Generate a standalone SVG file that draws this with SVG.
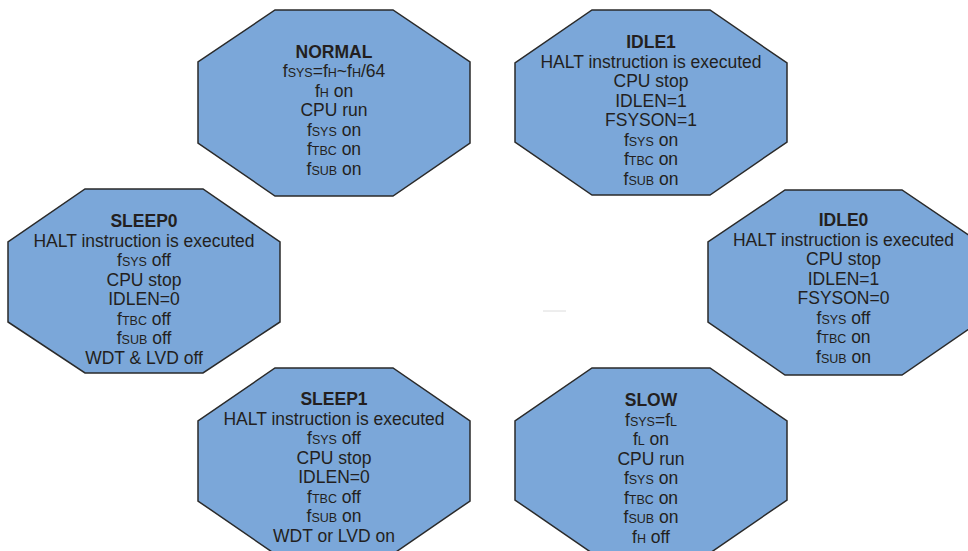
<svg xmlns="http://www.w3.org/2000/svg" width="968" height="551" viewBox="0 0 968 551">
<style>
.oct{fill:#7ba7d9;stroke:#2a2a2a;stroke-width:1.5;stroke-linejoin:miter}
text{font-family:"Liberation Sans",Arial,sans-serif;font-size:17.5px;fill:#231f20;text-anchor:middle}
.t{font-weight:bold}
.s{font-size:12.5px}
</style>
<rect width="968" height="551" fill="#ffffff"/>
<g id="connectors">
<line x1="543" y1="311" x2="566" y2="311" stroke="#dcdcdc" stroke-width="1"/>
</g>
<g id="normal">
<polygon class="oct" points="275,10 393,10 470,62 470,143 393,196 275,196 198,143 198,62"/>
<text x="334" y="57.5" class="t">NORMAL</text>
<text x="334" y="77">f<tspan class="s">SYS</tspan>=f<tspan class="s">H</tspan>~f<tspan class="s">H</tspan>/64</text>
<text x="334" y="96.5">f<tspan class="s">H</tspan> on</text>
<text x="334" y="116">CPU run</text>
<text x="334" y="135.5">f<tspan class="s">SYS</tspan> on</text>
<text x="334" y="155">f<tspan class="s">TBC</tspan> on</text>
<text x="334" y="174.5">f<tspan class="s">SUB</tspan> on</text>
</g>
<g id="idle1">
<polygon class="oct" points="592,10 710,10 787,63 787,142 710,195 592,195 515,142 515,63"/>
<text x="651" y="48" class="t">IDLE1</text>
<text x="651" y="67.5">HALT instruction is executed</text>
<text x="651" y="87">CPU stop</text>
<text x="651" y="106.5">IDLEN=1</text>
<text x="651" y="126">FSYSON=1</text>
<text x="651" y="145.5">f<tspan class="s">SYS</tspan> on</text>
<text x="651" y="165">f<tspan class="s">TBC</tspan> on</text>
<text x="651" y="184.5">f<tspan class="s">SUB</tspan> on</text>
</g>
<g id="sleep0">
<polygon class="oct" points="85,189 203,189 280,242 280,322 203,373 85,373 8,322 8,242"/>
<text x="144" y="227" class="t">SLEEP0</text>
<text x="144" y="246.5">HALT instruction is executed</text>
<text x="144" y="266">f<tspan class="s">SYS</tspan> off</text>
<text x="144" y="285.5">CPU stop</text>
<text x="144" y="305">IDLEN=0</text>
<text x="144" y="324.5">f<tspan class="s">TBC</tspan> off</text>
<text x="144" y="344">f<tspan class="s">SUB</tspan> off</text>
<text x="144" y="363.5">WDT &amp; LVD off</text>
</g>
<g id="idle0">
<polygon class="oct" points="785,190 902,190 979,242 979,322 902,375 785,375 708,322 708,242"/>
<text x="843.5" y="226" class="t">IDLE0</text>
<text x="843.5" y="245.5">HALT instruction is executed</text>
<text x="843.5" y="265">CPU stop</text>
<text x="843.5" y="284.5">IDLEN=1</text>
<text x="843.5" y="304">FSYSON=0</text>
<text x="843.5" y="323.5">f<tspan class="s">SYS</tspan> off</text>
<text x="843.5" y="343">f<tspan class="s">TBC</tspan> on</text>
<text x="843.5" y="362.5">f<tspan class="s">SUB</tspan> on</text>
</g>
<g id="sleep1">
<polygon class="oct" points="275,368 393,368 470,421 470,501 393,554 275,554 198,501 198,421"/>
<text x="334" y="405" class="t">SLEEP1</text>
<text x="334" y="424.5">HALT instruction is executed</text>
<text x="334" y="444">f<tspan class="s">SYS</tspan> off</text>
<text x="334" y="463.5">CPU stop</text>
<text x="334" y="483">IDLEN=0</text>
<text x="334" y="502.5">f<tspan class="s">TBC</tspan> off</text>
<text x="334" y="522">f<tspan class="s">SUB</tspan> on</text>
<text x="334" y="541.5">WDT or LVD on</text>
</g>
<g id="slow">
<polygon class="oct" points="592,368 710,368 787,421 787,500 710,553 592,553 515,500 515,421"/>
<text x="651" y="406" class="t">SLOW</text>
<text x="651" y="425.5">f<tspan class="s">SYS</tspan>=f<tspan class="s">L</tspan></text>
<text x="651" y="445">f<tspan class="s">L</tspan> on</text>
<text x="651" y="464.5">CPU run</text>
<text x="651" y="484">f<tspan class="s">SYS</tspan> on</text>
<text x="651" y="503.5">f<tspan class="s">TBC</tspan> on</text>
<text x="651" y="523">f<tspan class="s">SUB</tspan> on</text>
<text x="651" y="542.5">f<tspan class="s">H</tspan> off</text>
</g>
</svg>
